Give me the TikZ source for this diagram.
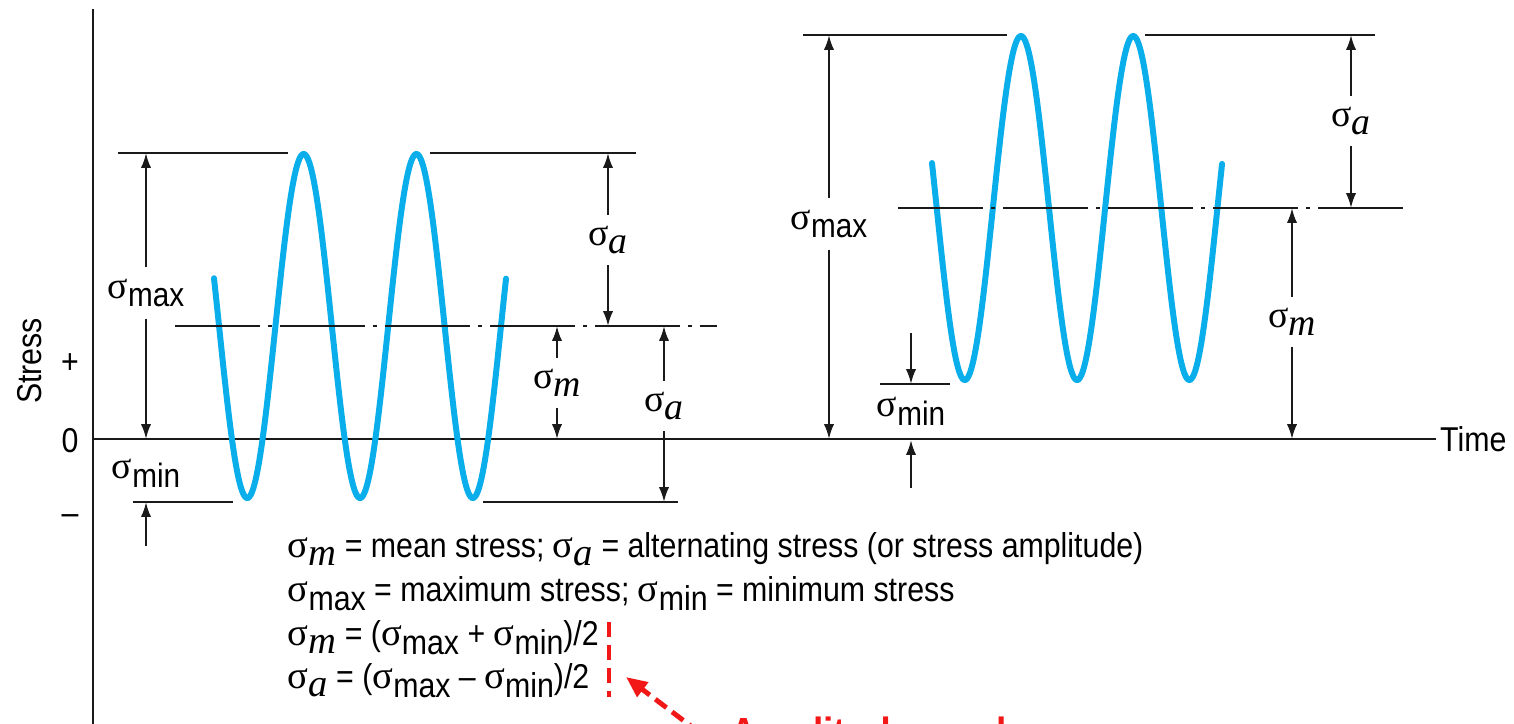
\documentclass[tikz,border=0pt]{standalone}
\usepackage{fontspec}
\setmainfont{Liberation Sans}[FakeStretch=0.88]
\newfontfamily\grkfont{Liberation Serif}[Scale=1.12]
\usepackage{tikz}
\usetikzlibrary{arrows.meta,positioning}
\definecolor{ink}{HTML}{1A1A1A}
\definecolor{wavecyan}{HTML}{0AAEEA}
\definecolor{notered}{HTML}{F21818}
\newcommand{\sg}{{\grkfont σ}}
\newcommand{\sgsub}[1]{\sg\raisebox{-0.5ex}{#1}}
\newcommand{\sgit}[1]{\sg\raisebox{-0.45ex}{\grkfont\itshape #1}}
\tikzset{
  levelline/.style={draw=ink, line width=0.6pt},
  meanline/.style={draw=ink, line width=0.6pt,
    dash pattern=on 0.85cm off 0.08cm on 0.04cm off 0.08cm},
  wave/.style={draw=wavecyan, line width=1.7pt, line cap=round},
  dimarrow/.style={draw=ink, line width=0.6pt, -{Latex[length=4.2pt,width=2.9pt]}},
  dimlabel/.style={inner xsep=1pt, inner ysep=3pt, font=\fontsize{9.6}{11}\selectfont},
  axislabel/.style={inner sep=1pt, font=\fontsize{9.8}{11}\selectfont},
  legendline/.style={anchor=base west, inner sep=0pt, font=\fontsize{9.8}{11}\selectfont},
  ampdash/.style={draw=notered, line width=1.2pt, dash pattern=on 0.15cm off 0.08cm},
  amparrow/.style={draw=notered, line width=1.4pt, dash pattern=on 0.14cm off 0.07cm,
    -{Triangle[length=6pt,width=5pt]}},
  ampnote/.style={anchor=base west, inner sep=0pt, text=notered,
    font=\bfseries\fontsize{12}{14}\selectfont}
}
\begin{document}
\begin{tikzpicture}[x=0.01cm,y=-0.01cm]
\useasboundingbox (0,0) rectangle (1514,723);
\clip (0,0) rectangle (1514,723);

% axes
\coordinate (origin) at (93,439);
\coordinate (axtop) at (93,9);
\coordinate (axbot) at (93,730);
\coordinate (axend) at (1436,439);
\draw[levelline] (axtop) -- (axbot);
\draw[levelline] (origin) -- (axend);
\node[axislabel, anchor=west] (time) at (axend) {Time};
\node[axislabel, rotate=90] (stress) at (30,361) {Stress};
\node[axislabel] (plus) at (70,364) {+};
\node[axislabel] (zero) at (70,441) {0};
\node[axislabel] (minus) at (70,520) {--};

% left cycle
\draw[wave] plot[domain=2.86:19.13, samples=240, variable=\t]
  ({214+(\t-2.86)*17.95}, {326-172*sin(\t r)});
\draw[levelline] (118,153) -- (288,153);
\draw[levelline] (430,153) -- (636,153);
\draw[meanline] (175,326) -- (717,326);
\draw[levelline] (133,502) -- (233,502);
\draw[levelline] (483,502) -- (678,502);

\coordinate (lmaxtop) at (146,153);
\coordinate (lmaxbot) at (146,439);
\node[dimlabel] (lsmax) at (146,293) {\sgsub{max}};
\draw[dimarrow] (lsmax) -- (lmaxtop);
\draw[dimarrow] (lsmax) -- (lmaxbot);

\node[dimlabel] (lsmin) at (146,473) {\sgsub{min}};
\coordinate (lmintail) at (146,546);
\coordinate (lminlvl) at (146,502);
\draw[dimarrow] (lmintail) -- (lminlvl);

\coordinate (latop) at (608,153);
\coordinate (labot) at (608,326);
\node[dimlabel] (lsa) at (608,240) {\sgit{a}};
\draw[dimarrow] (lsa) -- (latop);
\draw[dimarrow] (lsa) -- (labot);

\coordinate (lmtop) at (557,326);
\coordinate (lmbot) at (557,439);
\node[dimlabel] (lsm) at (557,383) {\sgit{m}};
\draw[dimarrow] (lsm) -- (lmtop);
\draw[dimarrow] (lsm) -- (lmbot);

\coordinate (la2top) at (664,326);
\coordinate (la2bot) at (664,502);
\node[dimlabel] (lsa2) at (664,406) {\sgit{a}};
\draw[dimarrow] (lsa2) -- (la2top);
\draw[dimarrow] (lsa2) -- (la2bot);

% right cycle
\draw[wave] plot[domain=2.877:19.11, samples=240, variable=\t]
  ({932+(\t-2.877)*17.87}, {208-172*sin(\t r)});
\draw[levelline] (803,35) -- (1007,35);
\draw[levelline] (1145,35) -- (1375,35);
\draw[meanline] (898,208) -- (1403,208);
\draw[levelline] (880,384) -- (950,384);

\coordinate (rmaxtop) at (829,35);
\coordinate (rmaxbot) at (829,439);
\node[dimlabel] (rsmax) at (829,224) {\sgsub{max}};
\draw[dimarrow] (rsmax) -- (rmaxtop);
\draw[dimarrow] (rsmax) -- (rmaxbot);

\coordinate (rmintail) at (911,333);
\coordinate (rminlvl) at (911,384);
\coordinate (rzerotail) at (911,488);
\coordinate (rzerolvl) at (911,440);
\node[dimlabel] (rsmin) at (911,411) {\sgsub{min}};
\draw[dimarrow] (rmintail) -- (rminlvl);
\draw[dimarrow] (rzerotail) -- (rzerolvl);

\coordinate (ratop) at (1351,35);
\coordinate (rabot) at (1351,208);
\node[dimlabel] (rsa) at (1351,121) {\sgit{a}};
\draw[dimarrow] (rsa) -- (ratop);
\draw[dimarrow] (rsa) -- (rabot);

\coordinate (rmtop) at (1292,208);
\coordinate (rmbot) at (1292,439);
\node[dimlabel] (rsm) at (1292,322) {\sgit{m}};
\draw[dimarrow] (rsm) -- (rmtop);
\draw[dimarrow] (rsm) -- (rmbot);

% definitions
\node[legendline] (leg1) at (287,557) {\sgit{m} = mean stress; \sgit{a} = alternating stress (or stress amplitude)};
\node[legendline] (leg2) at (287,601) {\sgsub{max} = maximum stress; \sgsub{min} = minimum stress};
\node[legendline] (leg3) at (287,645) {\sgit{m} = (\sgsub{max} + \sgsub{min})/2};
\node[legendline] (leg4) at (287,688) {\sgit{a} = (\sgsub{max} -- \sgsub{min})/2};

% red note, cut by the frame
\coordinate (ampfrom) at (609,622);
\coordinate (ampto) at (609,697);
\draw[ampdash] (ampfrom) -- (ampto);
\node[ampnote] (amptext) at (730,747) {Amplitude can be};
\coordinate (amptail) at (700,733);
\coordinate (amphead) at (626,677);
\draw[amparrow] (amptail) -- (amphead);
\end{tikzpicture}
\end{document}
